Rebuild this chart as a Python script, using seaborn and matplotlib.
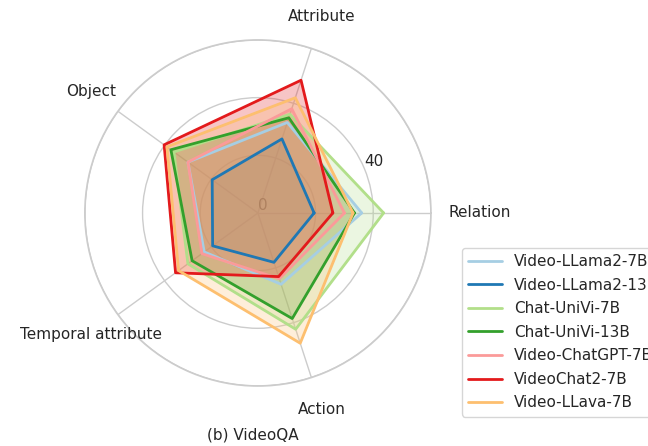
import numpy as np
import pandas as pd
import matplotlib
matplotlib.use("Agg")
import matplotlib.pyplot as plt
import seaborn as sns

categories = ["Relation", "Attribute", "Object", "Temporal attribute", "Action"]
models = ["Video-LLama2-7B", "Video-LLama2-13B", "Chat-UniVi-7B", "Chat-UniVi-13B",
          "Video-ChatGPT-7B", "VideoChat2-7B", "Video-LLava-7B"]

video_llama2_7b = [36.0, 33.0, 30.0, 23.0, 26.0]
video_llama2_13b = [19.5, 27.0, 19.6, 19.4, 18.0]
chat_univi_7b = [43.6, 36.0, 36.0, 30.0, 42.4]
chat_univi_13b = [33.5, 34.7, 37.3, 28.2, 38.5]
video_chatgpt_7b = [30.0, 38.0, 30.0, 24.0, 24.0]
videochat2_7b = [26.0, 48.4, 40.2, 35.3, 23.2]
video_llava_7b = [33.0, 42.0, 39.0, 34.0, 47.5]

series = [video_llama2_7b, video_llama2_13b, chat_univi_7b, chat_univi_13b,
          video_chatgpt_7b, videochat2_7b, video_llava_7b]

r_ticks = [0, 20, 40, 60]
r_ticklabels = ["0", "", "40", ""]

sns.set_theme(style="whitegrid")
palette = sns.color_palette("Paired", len(models))

angles = np.linspace(0, 2 * np.pi, len(categories), endpoint=False)
closed_angles = np.concatenate([angles, angles[:1]])

rows = []
for name, vals in zip(models, series):
    closed = list(vals) + [vals[0]]
    for i, (t, v) in enumerate(zip(closed_angles, closed)):
        rows.append({"model": name, "order": i, "theta": t, "score": v})
df = pd.DataFrame(rows)

fig = plt.figure(figsize=(6.48, 4.46), dpi=100)
ax = fig.add_axes([0.131, 0.1345, 0.534, 0.776], projection="polar")

sns.lineplot(data=df, x="theta", y="score", hue="model", hue_order=models,
             palette=palette, sort=False, estimator=None, units="model",
             linewidth=2, ax=ax, legend=True)
for name, color in zip(models, palette):
    sub = df[df["model"] == name]
    ax.fill(sub["theta"], sub["score"], color=color, alpha=0.25)

ax.set_ylim(0, 60)
ax.set_yticks(r_ticks)
ax.set_yticklabels(r_ticklabels, fontsize=11)
ax.set_xticks(angles)
ax.set_xticklabels([])
ax.set_xlabel("")
ax.set_ylabel("")
ax.grid(color="#cccccc", linewidth=1)
ax.spines["polar"].set_color("#cccccc")

# category names around the rim
for t, name in zip(angles, categories):
    if np.isclose(t, 0):
        ax.text(t, 66, name, ha="left", va="center", fontsize=11,
                color="#262626", clip_on=False)
    else:
        ax.text(t, 71.5, name, ha="center", va="center", fontsize=11,
                color="#262626", clip_on=False)

handles, labels = ax.get_legend_handles_labels()
ax.legend(handles, labels, loc="upper left", bbox_to_anchor=(0.713, 0.444),
          bbox_transform=fig.transFigure, borderaxespad=0, fontsize=11,
          frameon=True, handlelength=2.2, labelspacing=0.56)

fig.text(0.39, 0.025, "(b) VideoQA", ha="center", va="center", fontsize=11)

fig.savefig("out.png", dpi=100)
